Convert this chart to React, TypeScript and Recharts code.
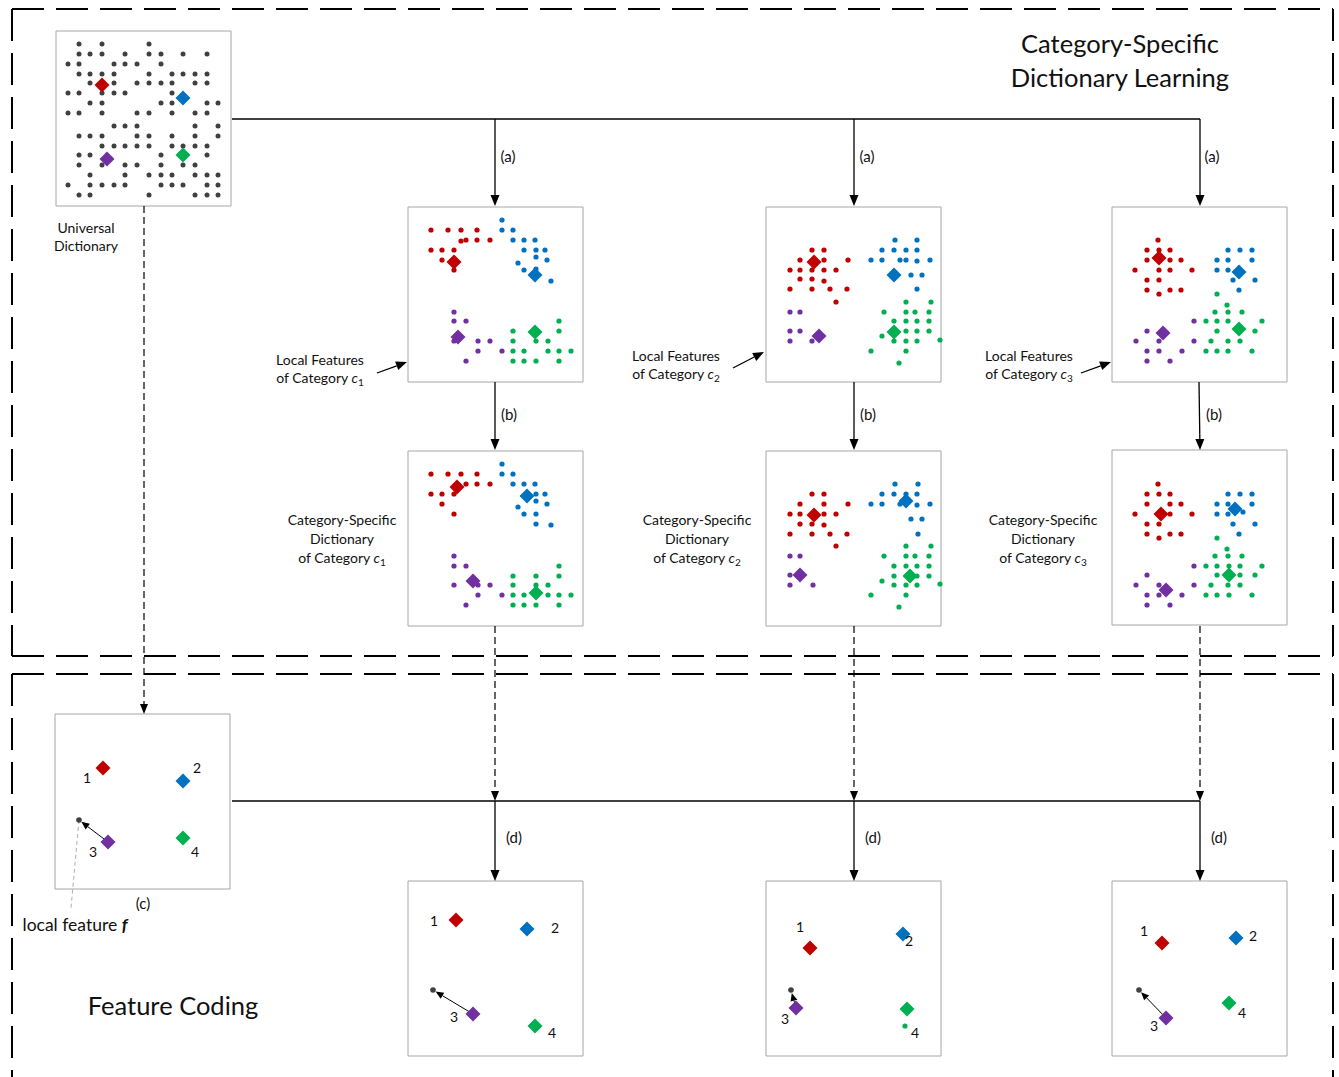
import { ScatterChart, Scatter, XAxis, YAxis, ReferenceArea, ReferenceLine } from 'recharts';

type Pt = [number, number];
type Cluster = { red: Pt[]; blue: Pt[]; purple: Pt[]; green: Pt[] };
type Atoms = { red: Pt; blue: Pt; purple: Pt; green: Pt };

const FONT = 'Lato, "Open Sans", sans-serif';
const COLORS = { red: '#C00000', blue: '#0070C0', purple: '#7030A0', green: '#00B050' };
const DOT_GRAY = '#404040';
const W = 1339;
const H = 1077;
const BOX = 175;

// universal dictionary: rows of [y, xs] inside the panel
const UNIVERSAL_ROWS: [number, number[]][] = [
  [13, [23, 46, 93]],
  [23, [23, 34, 46, 69, 93, 105, 127, 151]],
  [33, [12, 23, 58, 69, 81, 105]],
  [43, [23, 34, 46, 58, 93, 116, 127, 139, 151]],
  [52, [34, 58, 81, 93, 105, 116, 139, 151]],
  [62, [12, 23, 46, 58, 69, 116]],
  [72, [34, 46, 105, 116, 151, 162]],
  [82, [12, 23, 46, 81, 93, 116, 139, 151]],
  [95, [58, 69, 81, 139, 162]],
  [105, [23, 34, 46, 81, 93, 116, 139, 162]],
  [115, [46, 58, 69, 81, 93, 116, 127, 139, 151]],
  [124, [23, 34, 105, 151]],
  [134, [23, 46, 69, 81, 105, 127, 139]],
  [144, [34, 69, 93, 105, 116, 139, 151, 162]],
  [154, [12, 34, 46, 58, 69, 105, 116, 127, 151, 162]],
  [164, [23, 34, 93, 139, 151, 162]],
];
const UNIVERSAL_ATOMS: Atoms = { red: [46, 54], blue: [127, 67], purple: [51, 128], green: [127, 124] };

// local features per category
const LOCAL_C1: Cluster = {
  red: [[23, 23], [40, 23], [53, 23], [69, 23], [53, 34], [58, 33], [69, 33], [82, 33], [23, 43], [34, 43], [46, 43], [34, 53], [46, 63]],
  blue: [[94, 13], [94, 23], [105, 23], [105, 33], [116, 33], [127, 33], [116, 43], [128, 43], [137, 43], [128, 50], [139, 53], [110, 56], [116, 63], [128, 62], [143, 74]],
  purple: [[46, 105], [46, 114], [58, 114], [46, 134], [70, 134], [82, 134], [70, 144], [94, 144], [58, 154]],
  green: [[151, 114], [105, 124], [151, 124], [105, 134], [128, 134], [140, 134], [105, 144], [116, 144], [140, 144], [151, 144], [163, 144], [105, 154], [116, 154], [128, 154], [151, 154]],
};
const LOCAL_C1_ATOMS: Atoms = { red: [46, 55], blue: [127, 68], purple: [50, 130], green: [127, 125] };

const LOCAL_C2: Cluster = {
  red: [[46, 43], [58, 43], [34, 53], [58, 53], [82, 53], [24, 63], [34, 63], [46, 63], [58, 63], [70, 63], [34, 72], [46, 72], [58, 74], [24, 82], [46, 82], [64, 82], [81, 82], [70, 95]],
  blue: [[129, 33], [151, 33], [116, 43], [128, 43], [140, 43], [151, 43], [105, 53], [116, 53], [134, 53], [140, 53], [151, 54], [164, 53], [145, 68], [156, 68], [151, 82]],
  purple: [[24, 105], [34, 105], [24, 124], [34, 124], [24, 134], [46, 134]],
  green: [[140, 95], [165, 95], [118, 105], [140, 105], [149, 105], [163, 105], [128, 114], [140, 114], [151, 114], [163, 114], [116, 129], [140, 124], [151, 124], [163, 124], [128, 134], [140, 134], [151, 134], [174, 133], [105, 144], [140, 144], [133, 156]],
};
const LOCAL_C2_ATOMS: Atoms = { red: [48, 55], blue: [128, 68], purple: [53, 129], green: [128, 125] };

const LOCAL_C3: Cluster = {
  red: [[46, 33], [35, 43], [47, 43], [58, 43], [35, 53], [58, 53], [69, 53], [23, 63], [47, 63], [58, 63], [80, 63], [35, 73], [47, 73], [35, 83], [47, 87], [58, 83], [69, 83]],
  blue: [[116, 43], [128, 43], [140, 43], [105, 53], [116, 53], [140, 53], [105, 63], [116, 63], [121, 73], [143, 73], [127, 83]],
  purple: [[82, 114], [35, 124], [24, 134], [47, 134], [82, 134], [35, 144], [47, 144], [70, 144], [35, 154], [58, 154]],
  green: [[105, 87], [115, 98], [103, 105], [116, 105], [130, 105], [94, 114], [105, 114], [116, 114], [150, 114], [105, 124], [143, 124], [99, 134], [116, 134], [128, 134], [94, 144], [105, 144], [116, 144], [140, 144]],
};
const LOCAL_C3_ATOMS: Atoms = { red: [47, 51], blue: [127, 65], purple: [51, 126], green: [127, 122] };

// category-specific dictionaries
const DICT_C1: Cluster = {
  red: [[23, 23], [40, 23], [53, 23], [69, 23], [58, 33], [69, 33], [82, 33], [23, 43], [34, 43], [46, 43], [34, 53], [46, 63]],
  blue: [[94, 13], [94, 23], [105, 23], [105, 33], [116, 33], [127, 33], [128, 43], [137, 43], [128, 50], [139, 53], [110, 56], [116, 63], [128, 63], [128, 73], [143, 74]],
  purple: [[46, 105], [46, 115], [58, 115], [46, 134], [70, 134], [82, 134], [70, 144], [94, 144], [58, 154]],
  green: [[151, 115], [105, 125], [128, 125], [151, 125], [105, 134], [128, 134], [140, 134], [105, 144], [116, 144], [140, 144], [151, 144], [163, 144], [105, 154], [116, 154], [128, 154], [151, 154]],
};
const DICT_C1_ATOMS: Atoms = { red: [49, 36], blue: [119, 45], purple: [65, 130], green: [128, 142] };

const DICT_C2: Cluster = {
  red: [[46, 43], [58, 43], [34, 53], [58, 53], [82, 53], [24, 63], [34, 63], [58, 63], [70, 63], [34, 73], [46, 73], [58, 74], [24, 83], [46, 83], [64, 83], [81, 83], [70, 95]],
  blue: [[129, 33], [152, 33], [116, 43], [128, 43], [140, 43], [151, 43], [105, 53], [116, 53], [134, 53], [151, 54], [164, 53], [145, 68], [156, 68], [152, 83]],
  purple: [[24, 105], [34, 105], [24, 124], [24, 134], [47, 134]],
  green: [[140, 95], [165, 95], [118, 105], [140, 105], [149, 105], [163, 105], [128, 115], [140, 115], [151, 115], [163, 115], [128, 125], [151, 125], [163, 125], [116, 130], [128, 134], [140, 134], [151, 134], [174, 133], [105, 144], [140, 144], [133, 156]],
};
const DICT_C2_ATOMS: Atoms = { red: [48, 64], blue: [140, 50], purple: [34, 124], green: [144, 125] };

const DICT_C3: Cluster = {
  red: [[46, 34], [35, 44], [47, 44], [58, 44], [35, 54], [58, 54], [69, 54], [23, 64], [58, 64], [80, 64], [35, 74], [47, 74], [35, 84], [47, 88], [58, 84], [69, 84]],
  blue: [[116, 44], [128, 44], [140, 44], [105, 54], [116, 54], [140, 54], [105, 64], [116, 64], [131, 62], [121, 74], [143, 74], [127, 84]],
  purple: [[82, 116], [35, 125], [24, 135], [47, 135], [82, 135], [35, 145], [47, 145], [70, 145], [35, 155], [58, 155]],
  green: [[105, 88], [115, 99], [103, 106], [116, 106], [130, 106], [94, 116], [105, 116], [117, 116], [128, 116], [150, 116], [105, 125], [128, 125], [143, 125], [99, 135], [116, 135], [128, 135], [94, 145], [105, 145], [117, 145], [140, 145]],
};
const DICT_C3_ATOMS: Atoms = { red: [49, 64], blue: [123, 59], purple: [54, 140], green: [117, 125] };

// feature coding panels: atoms, atom numbers, the local feature f
const CODE_U_ATOMS: Atoms = { red: [48, 54], blue: [128, 67], purple: [53, 128], green: [128, 124] };
const CODE_C1_ATOMS: Atoms = { red: [48, 39], blue: [119, 48], purple: [65, 133], green: [127, 145] };
const CODE_C2_ATOMS: Atoms = { red: [44, 67], blue: [137, 53], purple: [30, 127], green: [141, 128] };
const CODE_C3_ATOMS: Atoms = { red: [50, 62], blue: [124, 57], purple: [54, 137], green: [117, 122] };
const CODE_U_NUMS: Pt[] = [[32, 64], [142, 54], [38, 138], [140, 138]];
const CODE_C1_NUMS: Pt[] = [[26, 40], [147, 47], [46, 136], [144, 152]];
const CODE_C2_NUMS: Pt[] = [[34, 46], [143, 60], [19, 138], [149, 152]];
const CODE_C3_NUMS: Pt[] = [[32, 50], [141, 55], [42, 145], [130, 132]];
const FEATURE_POS: Pt[] = [[24, 106], [25, 109], [25, 109], [27, 109]];
const CODE_C2_EXTRA_GREEN: Pt[] = [[139, 145]];
const ATOM_NUMBERS = ['1', '2', '3', '4'];

// panel placement
const O = {
  universal: [56, 31] as Pt,
  localC1: [408, 207] as Pt, localC2: [766, 207] as Pt, localC3: [1112, 207] as Pt,
  dictC1: [408, 451] as Pt, dictC2: [766, 451] as Pt, dictC3: [1112, 450] as Pt,
  codeU: [55, 714] as Pt, codeC1: [408, 881] as Pt, codeC2: [766, 881] as Pt, codeC3: [1112, 881] as Pt,
};

const CLUSTER_PANELS: [Pt, Cluster, Atoms][] = [
  [O.localC1, LOCAL_C1, LOCAL_C1_ATOMS], [O.localC2, LOCAL_C2, LOCAL_C2_ATOMS], [O.localC3, LOCAL_C3, LOCAL_C3_ATOMS],
  [O.dictC1, DICT_C1, DICT_C1_ATOMS], [O.dictC2, DICT_C2, DICT_C2_ATOMS], [O.dictC3, DICT_C3, DICT_C3_ATOMS],
];
const CODE_PANELS: [Pt, Atoms, Pt[]][] = [
  [O.codeU, CODE_U_ATOMS, CODE_U_NUMS], [O.codeC1, CODE_C1_ATOMS, CODE_C1_NUMS],
  [O.codeC2, CODE_C2_ATOMS, CODE_C2_NUMS], [O.codeC3, CODE_C3_ATOMS, CODE_C3_NUMS],
];

type TextItem = { x: number; y: number; lines: string[]; size?: number };
const TEXTS: TextItem[] = [
  { x: 1120, y: 61, lines: ['Category-Specific', 'Dictionary Learning'], size: 25.5 },
  { x: 173, y: 1006, lines: ['Feature Coding'], size: 25.5 },
  { x: 86, y: 237, lines: ['Universal', 'Dictionary'] },
  { x: 320, y: 369, lines: ['Local Features', 'of Category $c_1$'] },
  { x: 676, y: 365, lines: ['Local Features', 'of Category $c_2$'] },
  { x: 1029, y: 365, lines: ['Local Features', 'of Category $c_3$'] },
  { x: 342, y: 539, lines: ['Category-Specific', 'Dictionary', 'of Category $c_1$'] },
  { x: 697, y: 539, lines: ['Category-Specific', 'Dictionary', 'of Category $c_2$'] },
  { x: 1043, y: 539, lines: ['Category-Specific', 'Dictionary', 'of Category $c_3$'] },
  { x: 508, y: 157, lines: ['(a)'], size: 15 }, { x: 867, y: 157, lines: ['(a)'], size: 15 }, { x: 1212, y: 157, lines: ['(a)'], size: 15 },
  { x: 509, y: 415, lines: ['(b)'], size: 15 }, { x: 868, y: 415, lines: ['(b)'], size: 15 }, { x: 1214, y: 415, lines: ['(b)'], size: 15 },
  { x: 514, y: 838, lines: ['(d)'], size: 15 }, { x: 873, y: 838, lines: ['(d)'], size: 15 }, { x: 1219, y: 838, lines: ['(d)'], size: 15 },
  { x: 143, y: 904, lines: ['(c)'], size: 15 },
  { x: 75, y: 925, lines: ['local feature *f*'], size: 17.5 },
];

type Seg = [number, number, number, number];
const ARROWS: Seg[] = [
  [495, 119, 495, 206], [854, 119, 854, 206], [1200, 119, 1200, 206],
  [495, 382, 495, 450], [854, 382, 854, 450], [1199, 382, 1200, 450],
  [495, 801, 495, 881], [854, 801, 854, 881], [1200, 801, 1200, 881],
  [377, 373, 407, 362], [733, 368, 764, 352], [1081, 373, 1111, 362],
];
const PLAIN_LINES: Seg[] = [[232, 119, 1200, 119], [232, 801, 1200, 801]];
const DASHED_ARROWS: Seg[] = [
  [144, 206, 144, 714], [495, 626, 495, 801], [854, 626, 854, 801], [1200, 626, 1200, 801],
];
const FRAME_LINES: Seg[] = [
  [12, 9, 1333, 9], [12, 9, 12, 656], [1333, 9, 1333, 656], [12, 656, 1333, 656],
  [12, 674, 1333, 674], [12, 674, 12, 1077], [1333, 674, 1333, 1077],
];
const POINTER_LINE: Seg = [79, 820, 71, 908];

const shift = (o: Pt, p: Pt) => ({ x: o[0] + p[0], y: o[1] + p[1] });

const universalDots = UNIVERSAL_ROWS.flatMap(([y, xs]) => xs.map((x) => shift(O.universal, [x, y])));
const featureDots = CODE_PANELS.map(([o], i) => shift(o, FEATURE_POS[i]));

type ColorKey = keyof typeof COLORS;
const COLOR_KEYS: ColorKey[] = ['red', 'blue', 'purple', 'green'];

const dotsFor = (c: ColorKey) => {
  const pts = CLUSTER_PANELS.flatMap(([o, cl]) => cl[c].map((p) => shift(o, p)));
  if (c === 'green') CODE_C2_EXTRA_GREEN.forEach((p) => pts.push(shift(O.codeC2, p)));
  return pts;
};
const atomsFor = (c: ColorKey) => [
  shift(O.universal, UNIVERSAL_ATOMS[c]),
  ...CLUSTER_PANELS.map(([o, , a]) => shift(o, a[c])),
  ...CODE_PANELS.map(([o, a]) => shift(o, a[c])),
];

const numberLabels = CODE_PANELS.flatMap(([o, , nums]) =>
  nums.map((p, i) => ({ ...shift(o, p), lines: [ATOM_NUMBERS[i]], size: 14 })),
);
const textData = [...TEXTS, ...numberLabels];

const featureArrows: Seg[] = CODE_PANELS.map(([o, a], i) => {
  const s = shift(o, a.purple);
  const e = shift(o, FEATURE_POS[i]);
  const dx = e.x - s.x;
  const dy = e.y - s.y;
  const len = Math.hypot(dx, dy);
  return [s.x, s.y, e.x - (dx / len) * 3, e.y - (dy / len) * 3];
});

const panelOrigins = [O.universal, ...CLUSTER_PANELS.map((p) => p[0]), ...CODE_PANELS.map((p) => p[0])];

const arrowShape = (head: number, halfW: number, width: number, dash?: string) => (props: any) => {
  const { x1, y1, x2, y2 } = props;
  const dx = x2 - x1;
  const dy = y2 - y1;
  const len = Math.hypot(dx, dy) || 1;
  const ux = dx / len;
  const uy = dy / len;
  const bx = x2 - ux * head;
  const by = y2 - uy * head;
  return (
    <g>
      <line x1={x1} y1={y1} x2={bx} y2={by} stroke="#000" strokeWidth={width} strokeDasharray={dash} />
      <polygon
        points={`${x2},${y2} ${bx - uy * halfW},${by + ux * halfW} ${bx + uy * halfW},${by - ux * halfW}`}
        fill="#000"
      />
    </g>
  );
};

const lineShape = (color: string, width: number, dash?: string) => (props: any) => (
  <line x1={props.x1} y1={props.y1} x2={props.x2} y2={props.y2} stroke={color} strokeWidth={width} strokeDasharray={dash} />
);

const dotShape = (color: string, r: number) => (props: any) => <circle cx={props.cx} cy={props.cy} r={r} fill={color} />;

const diamondShape = (color: string) => (props: any) => {
  const { cx, cy } = props;
  const d = 7.5;
  return <polygon points={`${cx},${cy - d} ${cx + d},${cy} ${cx},${cy + d} ${cx - d},${cy}`} fill={color} />;
};

const rich = (line: string, size: number) =>
  line.split(/(\$\w_\w\$|\*\w\*)/).filter(Boolean).map((part, i) => {
    const sub = part.match(/^\$(\w)_(\w)\$$/);
    if (sub)
      return (
        <tspan key={i}>
          <tspan fontStyle="italic">{sub[1]}</tspan>
          <tspan fontSize={size * 0.72} dy={size * 0.22}>{sub[2]}</tspan>
        </tspan>
      );
    const bold = part.match(/^\*(\w)\*$/);
    if (bold) return <tspan key={i} fontStyle="italic" fontWeight="bold">{bold[1]}</tspan>;
    return <tspan key={i}>{part}</tspan>;
  });

const textShape = (props: any) => {
  const { cx, cy, payload } = props;
  const size: number = payload.size ?? 14;
  const lh = payload.size && payload.size > 20 ? size * 1.33 : 18.8;
  const lines: string[] = payload.lines;
  const top = cy - ((lines.length - 1) * lh) / 2 + size * 0.35;
  return (
    <text fontFamily={FONT} fontSize={size} fill="#111" textAnchor="middle">
      {lines.map((ln, i) => (
        <tspan key={i} x={cx} y={top + i * lh}>
          {rich(ln, size)}
        </tspan>
      ))}
    </text>
  );
};

const seg = (s: Seg) => [{ x: s[0], y: s[1] }, { x: s[2], y: s[3] }];

export default function App() {
  return (
    <div style={{ position: 'absolute', left: 0, top: 0, width: W, height: H, background: '#fff' }}>
      <ScatterChart width={W} height={H} margin={{ top: 0, right: 0, bottom: 0, left: 0 }}>
        <XAxis type="number" dataKey="x" domain={[0, W]} hide allowDataOverflow />
        <YAxis type="number" dataKey="y" domain={[0, H]} reversed hide allowDataOverflow />
        {panelOrigins.map((o, i) => (
          <ReferenceArea
            key={`panel-${i}`}
            x1={o[0]}
            x2={o[0] + BOX}
            y1={o[1]}
            y2={o[1] + BOX}
            fill="#fff"
            fillOpacity={1}
            stroke="#A6A6A6"
            strokeWidth={1}
            ifOverflow="visible"
          />
        ))}
        {FRAME_LINES.map((s, i) => (
          <ReferenceLine key={`frame-${i}`} segment={seg(s)} shape={lineShape('#000', 2, '32 12')} ifOverflow="visible" />
        ))}
        {PLAIN_LINES.map((s, i) => (
          <ReferenceLine key={`plain-${i}`} segment={seg(s)} shape={lineShape('#000', 1.3)} ifOverflow="visible" />
        ))}
        {ARROWS.map((s, i) => (
          <ReferenceLine key={`arrow-${i}`} segment={seg(s)} shape={arrowShape(11, 4.5, 1.3)} ifOverflow="visible" />
        ))}
        {DASHED_ARROWS.map((s, i) => (
          <ReferenceLine key={`darrow-${i}`} segment={seg(s)} shape={arrowShape(10, 4, 1.2, '7 4')} ifOverflow="visible" />
        ))}
        {featureArrows.map((s, i) => (
          <ReferenceLine key={`farrow-${i}`} segment={seg(s)} shape={arrowShape(8, 3.5, 1)} ifOverflow="visible" />
        ))}
        <ReferenceLine segment={seg(POINTER_LINE)} shape={lineShape('#999', 0.8, '4 3')} ifOverflow="visible" />
        <Scatter data={universalDots} shape={dotShape(DOT_GRAY, 2.5)} isAnimationActive={false} />
        <Scatter data={featureDots} shape={dotShape(DOT_GRAY, 2.8)} isAnimationActive={false} />
        {COLOR_KEYS.map((c) => (
          <Scatter key={`dots-${c}`} data={dotsFor(c)} shape={dotShape(COLORS[c], 2.6)} isAnimationActive={false} />
        ))}
        {COLOR_KEYS.map((c) => (
          <Scatter key={`atoms-${c}`} data={atomsFor(c)} shape={diamondShape(COLORS[c])} isAnimationActive={false} />
        ))}
        <Scatter data={textData} shape={textShape} isAnimationActive={false} />
      </ScatterChart>
    </div>
  );
}
